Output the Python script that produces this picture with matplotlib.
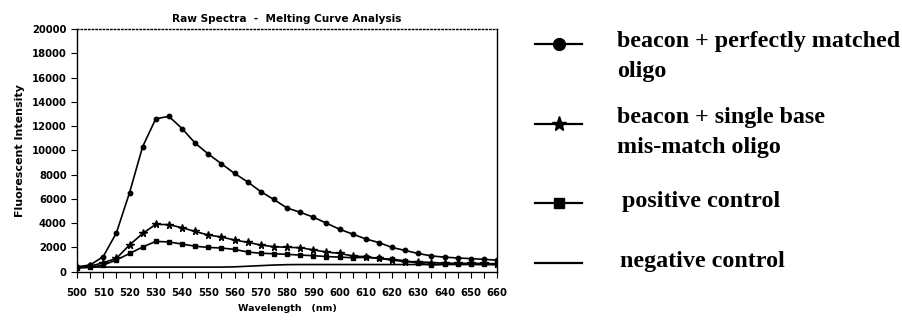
import matplotlib.pyplot as plt
import numpy as np

# wavelength grid (nm), one reading every 5 nm
wavelength = np.arange(500, 661, 5)

perfect_match = [400, 550, 1250, 3200, 6500, 10300, 12600, 12800, 11800, 10600,
                 9700, 8900, 8100, 7400, 6600, 5950, 5250, 4900, 4500, 4000,
                 3500, 3100, 2700, 2400, 2000, 1750, 1500, 1300, 1200, 1130,
                 1080, 1020, 950]
single_mismatch = [350, 450, 740, 1100, 2200, 3150, 3900, 3880, 3620, 3320,
                   3020, 2860, 2610, 2420, 2200, 2060, 2010, 1980, 1800, 1620,
                   1510, 1300, 1230, 1100, 960, 830, 820, 750, 700, 690,
                   690, 680, 650]
positive_ctrl = [300, 350, 550, 960, 1500, 2030, 2500, 2450, 2280, 2100,
                 2000, 1950, 1840, 1620, 1520, 1480, 1430, 1370, 1320, 1250,
                 1200, 1150, 1180, 1100, 1020, 900, 700, 560, 620, 620,
                 620, 600, 600]
negative_ctrl = [380, 380, 380, 380, 380, 380, 380, 380, 380, 380,
                 380, 380, 400, 450, 500, 550, 580, 590, 590, 590,
                 590, 590, 590, 590, 590, 590, 590, 590, 590, 590,
                 590, 590, 590]

series_labels = [["beacon + perfectly matched", "oligo"],
                 ["beacon + single base", "mis-match oligo"],
                 ["positive control"],
                 ["negative control"]]

W, H = 902, 324
fig = plt.figure(figsize=(W / 100, H / 100), dpi=100)
ax = fig.add_axes([77 / W, 1 - 271.7 / H, 420 / W, 242.7 / H])

styles = [dict(marker='o', ms=3.2),
          dict(marker='*', ms=5.5),
          dict(marker='s', ms=3.0),
          dict(marker=None, ms=0)]
series = [perfect_match, single_mismatch, positive_ctrl, negative_ctrl]

for vals, st in zip(series, styles):
    ax.plot(wavelength, vals, color='black', lw=1.2, marker=st['marker'],
            ms=st['ms'], mfc='black', mec='black')

tick_font = dict(family='DejaVu Sans', weight='bold', size=7.2)

ax.set_xlim(500, 660)
ax.set_ylim(0, 20000)
ax.set_xticks(np.arange(500, 661, 10))
ax.set_xticks(np.arange(505, 660, 10), minor=True)
ax.set_yticks(np.arange(0, 20001, 2000))
ax.tick_params(axis='both', which='both', direction='out', length=4, width=0.8,
               color='black')
ax.tick_params(axis='x', pad=8)
for lab in ax.get_xticklabels() + ax.get_yticklabels():
    lab.set_fontproperties(tick_font)

ax.spines['top'].set_linestyle(':')
ax.spines['top'].set_linewidth(1.0)
for side in ['left', 'right', 'bottom']:
    ax.spines[side].set_linewidth(1.0)

ax.set_title("Raw Spectra  -  Melting Curve Analysis",
             fontdict=dict(tick_font, size=7.6), pad=5)
ax.set_xlabel("Wavelength   (nm)", fontdict=dict(tick_font, size=6.8), labelpad=4)
ax.set_ylabel("Fluorescent Intensity", fontdict=dict(tick_font, size=8),
              labelpad=5)

# hand-placed legend on the right (pixel coordinates overlay)
lax = fig.add_axes([0, 0, 1, 1])
lax.set_xlim(0, W)
lax.set_ylim(H, 0)
lax.axis('off')

leg_styles = [dict(marker='o', ms=8.5),
              dict(marker='*', ms=11),
              dict(marker='s', ms=7),
              dict(marker=None, ms=0)]
key_y = [44, 124, 203, 263]
text_x = [617, 617, 622, 620]
text_y = [[42, 72], [118, 147], [201], [262]]
for st, ky, tx, tys, lines in zip(leg_styles, key_y, text_x, text_y, series_labels):
    lax.plot([535, 582], [ky, ky], color='black', lw=1.6)
    if st['marker'] is not None:
        lax.plot([558.5], [ky], color='black', marker=st['marker'], ms=st['ms'],
                 mfc='black', mec='black', lw=0)
    for ty, line in zip(tys, lines):
        lax.text(tx, ty, line, family='Liberation Serif', weight='bold',
                 size=17.3, va='center', ha='left')

fig.savefig('out.png', dpi=100)
